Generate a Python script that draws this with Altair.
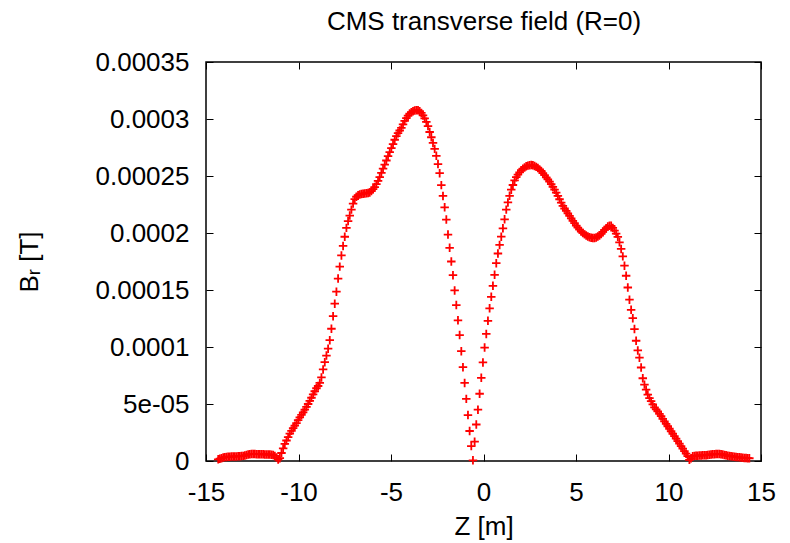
import altair as alt
import pandas as pd

FONT = "Liberation Sans"

# Z positions of the samples [m]
Z_M = [
    -14.34, -14.25, -14.16, -14.07, -13.98, -13.89, -13.80, -13.71, -13.62, -13.53,
    -13.44, -13.35, -13.26, -13.17, -13.08, -12.99, -12.90, -12.81, -12.72, -12.63,
    -12.54, -12.45, -12.36, -12.27, -12.18, -12.09, -12.00, -11.91, -11.82, -11.73,
    -11.64, -11.55, -11.46, -11.37, -11.28, -11.19, -11.10, -11.01, -10.92, -10.83,
    -10.74, -10.65, -10.56, -10.47, -10.38, -10.29, -10.20, -10.11, -10.02, -9.93,
    -9.84, -9.75, -9.66, -9.57, -9.48, -9.39, -9.30, -9.21, -9.12, -9.03,
    -8.94, -8.85, -8.76, -8.67, -8.58, -8.49, -8.40, -8.31, -8.22, -8.13,
    -8.04, -7.95, -7.86, -7.77, -7.68, -7.59, -7.50, -7.41, -7.32, -7.23,
    -7.14, -7.05, -6.96, -6.87, -6.78, -6.69, -6.60, -6.51, -6.42, -6.33,
    -6.24, -6.15, -6.06, -5.97, -5.88, -5.79, -5.70, -5.61, -5.52, -5.43,
    -5.34, -5.25, -5.16, -5.07, -4.98, -4.89, -4.80, -4.71, -4.62, -4.53,
    -4.44, -4.35, -4.26, -4.17, -4.08, -3.99, -3.90, -3.81, -3.72, -3.63,
    -3.54, -3.45, -3.36, -3.27, -3.18, -3.09, -3.00, -2.91, -2.82, -2.73,
    -2.64, -2.55, -2.46, -2.37, -2.28, -2.19, -2.10, -2.01, -1.92, -1.83,
    -1.74, -1.65, -1.56, -1.47, -1.38, -1.29, -1.20, -1.11, -1.02, -0.93,
    -0.84, -0.75, -0.66, -0.57, -0.48, -0.39, -0.30, -0.21, -0.12, -0.03,
    0.06, 0.15, 0.24, 0.33, 0.42, 0.51, 0.60, 0.69, 0.78, 0.87,
    0.96, 1.05, 1.14, 1.23, 1.32, 1.41, 1.50, 1.59, 1.68, 1.77,
    1.86, 1.95, 2.04, 2.13, 2.22, 2.31, 2.40, 2.49, 2.58, 2.67,
    2.76, 2.85, 2.94, 3.03, 3.12, 3.21, 3.30, 3.39, 3.48, 3.57,
    3.66, 3.75, 3.84, 3.93, 4.02, 4.11, 4.20, 4.29, 4.38, 4.47,
    4.56, 4.65, 4.74, 4.83, 4.92, 5.01, 5.10, 5.19, 5.28, 5.37,
    5.46, 5.55, 5.64, 5.73, 5.82, 5.91, 6.00, 6.09, 6.18, 6.27,
    6.36, 6.45, 6.54, 6.63, 6.72, 6.81, 6.90, 6.99, 7.08, 7.17,
    7.26, 7.35, 7.44, 7.53, 7.62, 7.71, 7.80, 7.89, 7.98, 8.07,
    8.16, 8.25, 8.34, 8.43, 8.52, 8.61, 8.70, 8.79, 8.88, 8.97,
    9.06, 9.15, 9.24, 9.33, 9.42, 9.51, 9.60, 9.69, 9.78, 9.87,
    9.96, 10.05, 10.14, 10.23, 10.32, 10.41, 10.50, 10.59, 10.68, 10.77,
    10.86, 10.95, 11.04, 11.13, 11.22, 11.31, 11.40, 11.49, 11.58, 11.67,
    11.76, 11.85, 11.94, 12.03, 12.12, 12.21, 12.30, 12.39, 12.48, 12.57,
    12.66, 12.75, 12.84, 12.93, 13.02, 13.11, 13.20, 13.29, 13.38, 13.47,
    13.56, 13.65, 13.74, 13.83, 13.92, 14.01, 14.10, 14.19, 14.28, 14.37,
]

# transverse field B_r, in micro-tesla
BR_UT = [
    1.5, 2.0, 2.5, 3.0, 3.4, 3.6, 3.8, 3.8, 3.9, 3.9,
    4.0, 4.0, 4.1, 4.2, 4.3, 4.5, 4.8, 5.3, 5.8, 6.0,
    6.1, 6.1, 6.1, 6.0, 6.0, 6.0, 5.9, 5.9, 5.8, 5.8,
    5.7, 5.6, 5.5, 5.2, 4.5, 3.0, 1.2, 2.5, 7.0, 11.0,
    15.0, 18.0, 21.0, 24.0, 26.5, 28.8, 31.0, 33.3, 35.8, 38.3,
    40.5, 42.6, 45.0, 47.4, 50.0, 52.8, 55.5, 58.4, 61.2, 63.8,
    65.8, 68.5, 73.3, 80.3, 86.7, 92.5, 98.5, 106.0, 116.0, 127.0,
    138.0, 148.5, 160.0, 170.5, 180.3, 188.7, 196.7, 204.5, 210.5, 215.3,
    220.5, 225.8, 229.8, 231.8, 233.2, 233.8, 234.2, 234.5, 234.7, 234.9,
    235.1, 235.6, 236.8, 238.4, 240.3, 242.8, 245.8, 249.0, 252.8, 256.4,
    260.0, 263.6, 267.4, 271.0, 274.5, 278.0, 281.8, 285.0, 287.6, 289.9,
    292.3, 295.3, 298.3, 300.8, 302.9, 304.8, 306.0, 306.9, 307.4, 307.7,
    307.6, 306.8, 305.3, 303.1, 300.5, 297.5, 293.8, 288.6, 284.0, 279.0,
    273.8, 267.7, 260.5, 252.5, 242.0, 232.5, 222.5, 211.8, 198.6, 187.0,
    175.0, 163.0, 149.6, 136.8, 123.4, 110.5, 96.3, 82.3, 68.5, 54.5,
    40.3, 26.3, 13.1, 0.6, 17.0, 32.0, 45.0, 59.0, 73.0, 86.5,
    99.5, 111.5, 123.0, 133.9, 144.0, 153.7, 163.3, 173.5, 182.0, 189.5,
    196.8, 204.1, 212.0, 220.5, 226.8, 232.6, 238.0, 242.1, 246.1, 249.0,
    251.2, 253.2, 255.1, 256.4, 257.5, 258.5, 259.1, 259.4, 259.6, 259.4,
    258.7, 258.0, 257.0, 255.8, 254.4, 252.6, 250.7, 248.8, 247.0, 245.1,
    242.8, 240.4, 238.0, 235.4, 232.5, 229.6, 226.6, 223.8, 221.5, 219.4,
    217.3, 215.1, 212.9, 210.7, 208.6, 206.5, 204.7, 203.0, 201.3, 200.1,
    198.8, 197.8, 197.0, 196.3, 195.8, 195.6, 195.7, 196.1, 196.9, 197.8,
    199.2, 200.9, 202.7, 204.2, 205.6, 206.3, 206.3, 204.5, 202.1, 199.5,
    196.6, 191.8, 186.0, 179.5, 171.3, 162.5, 152.2, 141.5, 132.6, 125.3,
    115.7, 105.5, 97.0, 90.6, 82.0, 72.6, 67.0, 62.6, 58.3, 55.2,
    52.5, 49.6, 47.1, 45.3, 43.5, 41.4, 39.3, 37.0, 34.7, 32.6,
    30.5, 28.3, 26.1, 23.9, 21.8, 19.6, 17.4, 15.2, 13.0, 10.8,
    8.6, 6.4, 4.2, 1.0, 2.5, 4.2, 4.5, 4.6, 4.7, 4.8,
    4.9, 5.0, 5.0, 5.1, 5.3, 5.5, 5.7, 5.9, 6.0, 6.1,
    6.1, 6.1, 6.0, 5.7, 5.3, 5.0, 4.7, 4.4, 4.2, 4.0,
    3.8, 3.6, 3.4, 3.2, 3.0, 2.9, 2.7, 2.6, 2.5, 2.4,
]

X_TICKS = [-15, -10, -5, 0, 5, 10, 15]
Y_TICKS = [0, 0.00005, 0.0001, 0.00015, 0.0002, 0.00025, 0.0003, 0.00035]
Y_TICK_LABELS = ["0", "5e-05", "0.0001", "0.00015", "0.0002", "0.00025", "0.0003", "0.00035"]

TITLE = "CMS transverse field (R=0)"
X_TITLE = "Z [m]"
Y_TITLE = "Bᵣ [T]"

assert len(Z_M) == len(BR_UT)

df = pd.DataFrame({"z": Z_M, "br": [b * 1e-6 for b in BR_UT]})

label_expr = " : ".join(
    f"abs(datum.value - {v}) < 1e-9 ? '{l}'" for v, l in zip(Y_TICKS, Y_TICK_LABELS)
) + " : ''"

PLUS = "M -1 0 L 1 0 M 0 -1 L 0 1"

x_scale = alt.Scale(domain=[-15, 15], nice=False, zero=False)
y_scale = alt.Scale(domain=[0, 0.00035], nice=False, zero=False)

common_tick = dict(offset=-7, tickSize=7, tickColor="black", tickWidth=1,
                   domain=False, grid=False, labelFlush=False, labelOverlap=False)
title_style = dict(titleFont=FONT, titleFontSize=26, titleFontWeight="normal",
                   titleColor="black", titleBaseline="alphabetic")

points = alt.Chart(df).mark_point(
    shape=PLUS, size=72, color="#ff0000", strokeWidth=1.8, filled=False, opacity=1
).encode(
    x=alt.X("z:Q", scale=x_scale, title=X_TITLE, axis=alt.Axis(
        values=X_TICKS, orient="bottom", labelExpr="'' + datum.value",
        labelFont=FONT, labelFontSize=26, labelColor="black", labelPadding=18,
        titleY=80, **common_tick, **title_style,
    )),
    y=alt.Y("br:Q", scale=y_scale, title=Y_TITLE, axis=alt.Axis(
        values=Y_TICKS, orient="left", labelExpr=label_expr,
        labelFont=FONT, labelFontSize=26, labelColor="black", labelPadding=17,
        titleAngle=270, titleAlign="center", titleX=-176, titleY=199.5,
        **common_tick, **title_style,
    )),
)

mirror = alt.Chart(df).mark_point(size=1, opacity=0).encode(
    x=alt.X("z:Q", scale=x_scale, title=TITLE, axis=alt.Axis(
        values=X_TICKS, orient="top", labels=False,
        titleAlign="center", titleY=-40, **common_tick, **title_style,
    )),
    y=alt.Y("br:Q", scale=y_scale, title=None, axis=alt.Axis(
        values=Y_TICKS, orient="right", labels=False, **common_tick,
    )),
)

chart = alt.layer(points, mirror).resolve_axis(
    x="independent", y="independent"
).properties(
    width=555,
    height=399,
    padding={"left": 206, "top": 62, "right": 29, "bottom": 82},
    autosize=alt.AutoSizeParams(type="none"),
    background="white",
).configure_view(stroke="black", strokeWidth=1.5)

chart.save("out.html", embed_options={"renderer": "svg", "actions": False})
